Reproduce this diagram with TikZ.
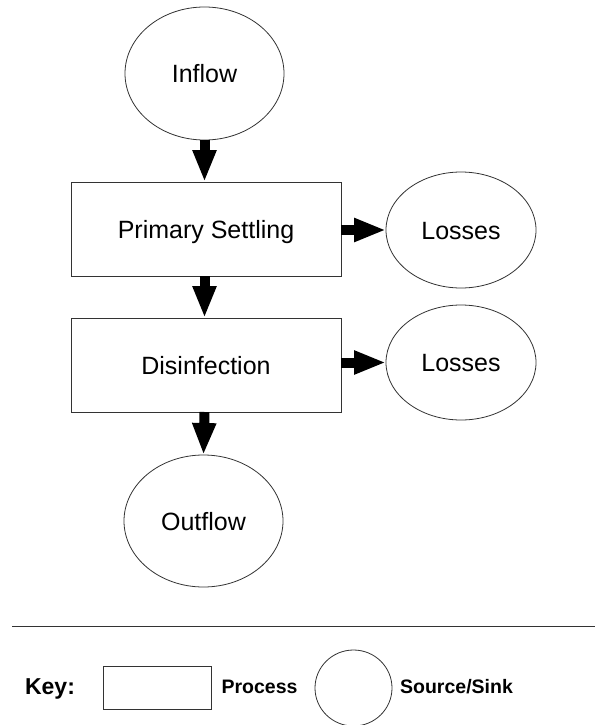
\documentclass[tikz,border=0pt]{standalone}
\usepackage{fontspec}
\setmainfont{Liberation Sans}
\usetikzlibrary{shapes.geometric,arrows.meta}
\begin{document}
\begin{tikzpicture}[x=1pt,y=-1pt,
  lbl/.style={font=\fontsize{25}{30}\selectfont,text height=18pt,text depth=0pt},
  proc/.style={lbl,draw=black!80,line width=0.9pt,minimum width=270pt,minimum height=94pt,inner sep=0pt,outer sep=0pt},
  src/.style={lbl,ellipse,draw=black!80,line width=0.8pt,inner sep=0pt,outer sep=0pt},
  flow/.style={line width=10pt,-{Triangle[width=22pt,length=32pt]}},
  keytxt/.style={font=\fontsize{19.5}{23}\selectfont\bfseries,text height=14pt,text depth=0pt,inner sep=0pt},
]
\useasboundingbox (0,0) rectangle (595,725);
% flow chart
\node[src,minimum width=159pt,minimum height=133pt] (in) at (204.5,73.5) {Inflow};
\node[proc] (ps) at (206,229) {Primary Settling};
\node[src,minimum width=150pt,minimum height=116pt] (l1) at (461,230) {Losses};
\node[proc] (dis) at (206,365) {Disinfection};
\node[src,minimum width=150pt,minimum height=115pt] (l2) at (461,362.5) {Losses};
\node[src,minimum width=159pt,minimum height=132pt] (out) at (203.5,521) {Outflow};
\draw[flow] (in.south) -- (in.south |- ps.north);
\draw[flow] (ps.south -| in.south) -- (dis.north -| in.south);
\draw[flow] (dis.south -| in.south) -- (out.north);
\draw[flow] (ps.east |- l1.west) -- (l1.west);
\draw[flow] (dis.east |- l2.west) -- (l2.west);
% key
\coordinate (la) at (12,626);
\coordinate (lb) at (595,626);
\draw[black!80,line width=0.9pt] (la) -- (lb);
\node[font=\fontsize{23}{27}\selectfont\bfseries,text height=16.5pt,text depth=0pt,inner sep=0pt] (key) at (50,686) {Key:};
\node[draw=black!80,line width=0.9pt,minimum width=108pt,minimum height=43pt,inner sep=0pt,outer sep=0pt] (kproc) at (157,687.5) {};
\node[keytxt] (kproctxt) at (259.5,686) {Process};
\node[ellipse,draw=black!80,line width=0.8pt,minimum width=77pt,minimum height=76pt,inner sep=0pt,outer sep=0pt] (ksrc) at (353.5,688) {};
\node[keytxt] (ksrctxt) at (456.5,686) {Source/Sink};
\end{tikzpicture}
\end{document}
